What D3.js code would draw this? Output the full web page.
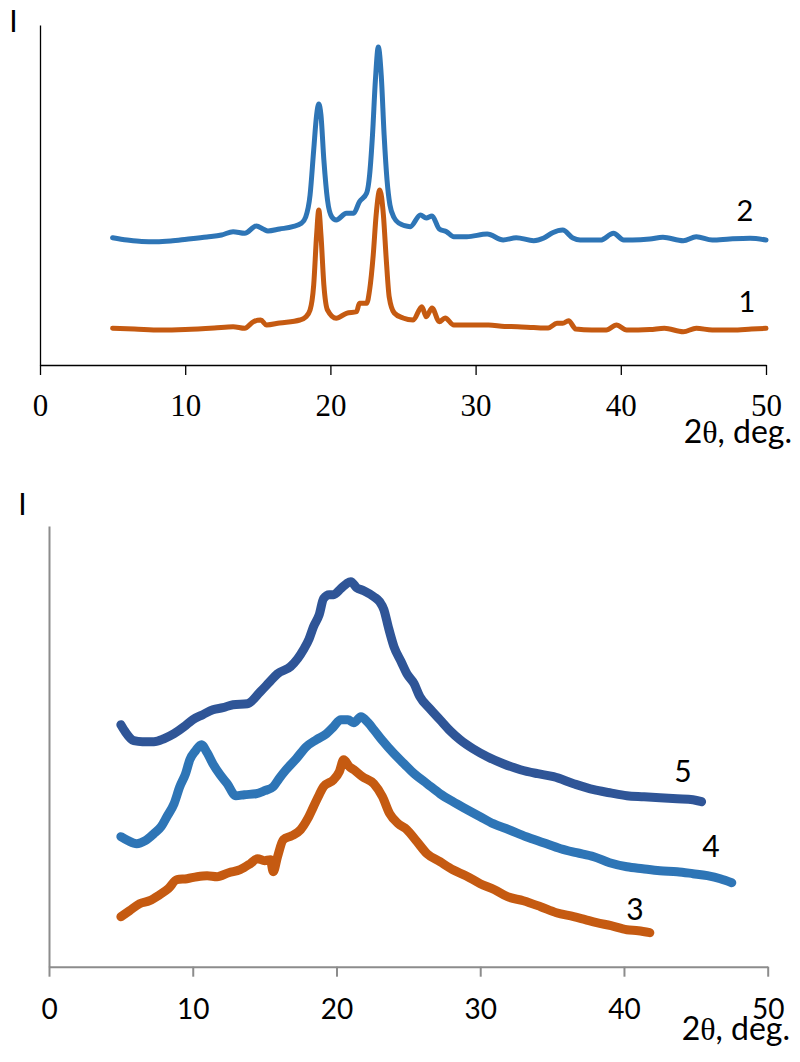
<!DOCTYPE html>
<html>
<head>
<meta charset="utf-8">
<script src="https://cdn.jsdelivr.net/npm/d3@7"></script>
<style>
  html, body { margin: 0; padding: 0; background: #fff; }
  svg { display: block; }
</style>
</head>
<body>
<svg id="chart" width="800" height="1062"></svg>
<script>
// ---------- DATA ----------
const xTicks = [0, 10, 20, 30, 40, 50];
const xTickLabels = ["0", "10", "20", "30", "40", "50"];

// Top panel, curve 1 (orange)
const theta1 = [5.0, 6.5, 8.3, 10.0, 12.0, 13.3, 14.1, 14.7, 15.2, 15.6, 16.5, 17.9, 18.3, 18.6, 18.85, 19.05, 19.2, 19.35, 19.55, 19.8, 20.4, 21.1, 21.8, 22.0, 22.5, 22.7, 22.95, 23.15, 23.4, 23.65, 23.85, 24.05, 24.4, 25.0, 25.7, 26.3, 26.6, 27.0, 27.5, 27.9, 28.5, 30.0, 30.9, 32.0, 32.9, 34.0, 35.0, 35.6, 36.0, 36.4, 36.9, 38.0, 39.0, 39.7, 40.4, 42.0, 43.0, 44.3, 45.2, 46.3, 47.7, 49.0, 50.0];
const int1 = [36.7, 36, 35, 35.5, 37, 38.3, 36.7, 43.3, 45, 40, 42, 45, 48, 55, 80, 130, 155, 130, 80, 55, 46.7, 51.7, 53.3, 61.7, 61.7, 75, 110, 150, 175, 150, 105, 68, 52, 47, 45, 58.3, 48.3, 57, 43.3, 47, 40, 40, 40, 38.5, 38.3, 37.5, 37, 41.7, 41.7, 44.3, 36, 35, 35, 40, 35, 35.5, 36.7, 33.3, 36.7, 35, 35, 36, 36.7];

// Top panel, curve 2 (blue)
const theta2 = [5.0, 6.0, 7.0, 8.0, 9.0, 10.1, 11.5, 12.5, 13.3, 14.1, 14.9, 15.4, 15.7, 16.5, 17.4, 18.0, 18.3, 18.6, 18.85, 19.05, 19.2, 19.35, 19.55, 19.8, 20.1, 20.4, 21.1, 21.6, 22.0, 22.5, 22.7, 22.9, 23.1, 23.3, 23.5, 23.7, 23.9, 24.1, 24.4, 24.7, 25.5, 26.2, 26.6, 27.0, 27.5, 28.0, 28.5, 29.4, 30.8, 31.9, 32.8, 34.0, 34.7, 35.3, 36.0, 36.7, 37.2, 38.6, 39.5, 40.2, 40.8, 42.0, 42.9, 44.3, 45.2, 46.3, 47.5, 48.9, 50];
const int2 = [127.3, 125, 123.5, 123.3, 124, 125.7, 128, 130, 133.3, 131.7, 139, 135.7, 134, 136, 138.3, 141.7, 148, 170, 215, 250, 261, 250, 205, 165, 148, 145, 151.7, 151.7, 163.3, 172, 190, 230, 285, 318, 290, 230, 185, 160, 147, 142, 138.3, 150, 147, 149, 136, 133.3, 128.3, 128.3, 131, 125, 127.3, 124.3, 127, 132.3, 135, 127, 125, 125, 131.7, 125, 125, 126, 127.7, 124.3, 128.3, 125, 126, 126.7, 125];

// Bottom panel, curve 3 (orange)
const theta3 = [5.0, 5.6, 6.3, 7.0, 7.7, 8.3, 8.9, 9.6, 10.3, 11.0, 11.7, 12.5, 13.3, 14.0, 14.5, 15.0, 15.4, 15.6, 15.9, 16.3, 16.9, 17.5, 18.0, 18.4, 18.8, 19.1, 19.8, 20.2, 20.5, 20.9, 21.2, 21.8, 22.6, 23.2, 23.7, 24.3, 24.9, 25.6, 26.3, 27.2, 28.1, 29.0, 30.0, 31.0, 31.9, 33.0, 34.2, 35.3, 36.5, 37.3, 38.1, 39.1, 40.2, 41.0, 41.8];
const int3 = [50, 56, 63, 66, 72, 78, 87, 88, 90, 91, 90, 94, 97, 103, 108, 106, 107, 95, 110, 127, 131, 137, 148, 160, 172, 180, 187, 195, 207, 200, 197, 190, 183, 170, 153, 143, 137, 125, 113, 105, 97, 91, 83, 77, 70, 66, 60, 54, 50, 47, 44, 41, 37, 36, 34];

// Bottom panel, curve 4 (blue)
const theta4 = [5.0, 5.5, 6.1, 6.7, 7.3, 7.8, 8.2, 8.7, 9.1, 9.5, 9.8, 10.2, 10.6, 11.0, 11.4, 11.9, 12.4, 13.0, 13.6, 14.4, 15.0, 15.6, 16.0, 16.5, 17.2, 17.9, 18.6, 19.3, 19.8, 20.3, 20.8, 21.2, 21.7, 22.2, 22.6, 23.2, 24.0, 24.7, 25.4, 26.3, 27.2, 28.1, 29.1, 30.0, 30.9, 32.0, 33.2, 34.4, 35.6, 36.7, 37.9, 39.0, 40.2, 41.3, 42.5, 43.7, 44.8, 45.8, 46.7, 47.5];
const int4 = [130, 126, 123, 126, 133, 140, 150, 163, 180, 193, 207, 216, 222, 214, 203, 192, 183, 171, 172, 173, 176, 180, 188, 197, 208, 220, 227, 233, 240, 247, 247, 244, 250, 244, 237, 226, 213, 203, 193, 183, 173, 165, 157, 150, 143, 137, 130, 124, 118, 114, 110, 104, 100, 98, 96, 95, 93, 91, 88, 84];

// Bottom panel, curve 5 (dark blue)
const theta5 = [5.0, 5.3, 5.9, 6.5, 7.3, 8.0, 8.7, 9.4, 10.0, 10.7, 11.4, 12.1, 12.8, 13.8, 14.7, 15.3, 15.9, 16.8, 17.3, 17.7, 18.1, 18.4, 18.8, 19.1, 19.5, 19.8, 20.3, 20.7, 21.0, 21.4, 21.9, 22.6, 23.0, 23.3, 23.6, 24.0, 24.5, 24.9, 25.4, 25.8, 26.5, 27.2, 27.9, 28.6, 29.5, 30.5, 31.6, 32.8, 34.0, 35.1, 36.5, 37.9, 39.0, 40.2, 41.4, 42.5, 43.7, 44.8, 45.4];
const int5 = [242, 235, 226, 225, 225, 228, 233, 240, 247, 252, 257, 259, 262, 263, 275, 284, 293, 300, 308, 317, 328, 340, 352, 368, 372, 372, 378, 383, 385, 379, 376, 370, 365, 357, 340, 320, 305, 293, 283, 270, 258, 247, 236, 227, 218, 210, 203, 197, 193, 190, 183, 177, 174, 171, 170, 169, 168, 167, 165];

const topLabels = ["1", "2"];
const bottomLabels = ["3", "4", "5"];

// ---------- DRAWING ----------
const svg = d3.select("#chart");
svg.append("rect").attr("width", 800).attr("height", 1062).attr("fill", "#fff");

const ORANGE = "#C55A11", BLUE = "#2E75B6", DARK = "#2F5597";
const zip = (xs, ys) => xs.map((x, i) => [x, ys[i]]);

function axisTitle(g, x, y) {
  const t = g.append("text").attr("x", x).attr("y", y).attr("text-anchor", "end")
    .attr("font-family", "Lato, sans-serif").attr("font-size", 32).attr("fill", "#000");
  t.append("tspan").text("2");
  t.append("tspan").attr("font-family", "'Liberation Serif', serif").text("θ");
  t.append("tspan").text(", deg.");
}

// ---- Top panel ----
const xT = d3.scaleLinear().domain([0, 50]).range([40, 766]);
const yT = d3.scaleLinear().domain([0, 340]).range([365, 25]);

const lineT = d3.line().x(d => xT(d[0])).y(d => yT(d[1])).curve(d3.curveMonotoneX);

const gT = svg.append("g");
gT.append("path").datum(zip(theta1, int1)).attr("d", lineT)
  .attr("fill", "none").attr("stroke", ORANGE).attr("stroke-width", 5)
  .attr("stroke-linejoin", "round").attr("stroke-linecap", "round");
gT.append("path").datum(zip(theta2, int2)).attr("d", lineT)
  .attr("fill", "none").attr("stroke", BLUE).attr("stroke-width", 5)
  .attr("stroke-linejoin", "round").attr("stroke-linecap", "round");

const axT = gT.append("g").attr("transform", `translate(0,${yT(0)})`)
  .call(d3.axisBottom(xT).tickValues(xTicks).tickFormat((d, i) => xTickLabels[i]).tickSize(10).tickSizeOuter(0));
axT.select(".domain").attr("stroke", "#000").attr("stroke-width", 1.3);
axT.selectAll(".tick line").attr("stroke", "#000").attr("stroke-width", 1.3);
axT.selectAll(".tick text").attr("font-family", "'Liberation Serif', serif").attr("font-size", 31)
  .attr("fill", "#000").attr("y", 0).attr("dy", 51);

const ayT = gT.append("g").attr("transform", `translate(${xT(0)},0)`)
  .call(d3.axisLeft(yT).tickValues([]).tickSizeOuter(0));
ayT.select(".domain").attr("stroke", "#000").attr("stroke-width", 1.3);

gT.append("text").attr("x", 13.5).attr("y", 32).attr("text-anchor", "middle")
  .attr("font-family", "Lato, sans-serif").attr("font-size", 30).text("I");

axisTitle(gT, 792, 443);

gT.append("text").attr("x", 747).attr("y", 312).attr("text-anchor", "middle")
  .attr("font-family", "Lato, sans-serif").attr("font-size", 29).text(topLabels[0]);
gT.append("text").attr("x", 745).attr("y", 221).attr("text-anchor", "middle")
  .attr("font-family", "Lato, sans-serif").attr("font-size", 29).text(topLabels[1]);

// ---- Bottom panel ----
const xB = d3.scaleLinear().domain([0, 50]).range([49, 767.7]);
const yB = d3.scaleLinear().domain([0, 440.7]).range([966.7, 526]);
const lineB = d3.line().x(d => xB(d[0])).y(d => yB(d[1])).curve(d3.curveMonotoneX);

const gB = svg.append("g");
const axB = gB.append("g").attr("transform", `translate(0,${yB(0)})`)
  .call(d3.axisBottom(xB).tickValues(xTicks).tickFormat((d, i) => xTickLabels[i]).tickSize(10).tickSizeOuter(0));
axB.select(".domain").attr("stroke", "#8c8c8c").attr("stroke-width", 2);
axB.selectAll(".tick line").attr("stroke", "#8c8c8c").attr("stroke-width", 2);
axB.selectAll(".tick text").attr("font-family", "Lato, sans-serif").attr("font-size", 28)
  .attr("fill", "#000").attr("y", 0).attr("dy", 52);

const ayB = gB.append("g").attr("transform", `translate(${xB(0)},0)`)
  .call(d3.axisLeft(yB).tickValues([]).tickSizeOuter(0));
ayB.select(".domain").attr("stroke", "#8c8c8c").attr("stroke-width", 2);

[[theta3, int3, ORANGE], [theta4, int4, BLUE], [theta5, int5, DARK]].forEach(([t, v, c]) => {
  gB.append("path").datum(zip(t, v)).attr("d", lineB)
    .attr("fill", "none").attr("stroke", c).attr("stroke-width", 9)
    .attr("stroke-linejoin", "round").attr("stroke-linecap", "round");
});

gB.append("text").attr("x", 22.5).attr("y", 515).attr("text-anchor", "middle")
  .attr("font-family", "Lato, sans-serif").attr("font-size", 30).text("I");

axisTitle(gB, 790, 1040);

const bl = [[635, 920], [711, 857], [683, 782]];
bottomLabels.forEach((s, i) => {
  gB.append("text").attr("x", bl[i][0]).attr("y", bl[i][1]).attr("text-anchor", "middle")
    .attr("font-family", "Lato, sans-serif").attr("font-size", 30).text(s);
});
</script>
</body>
</html>
